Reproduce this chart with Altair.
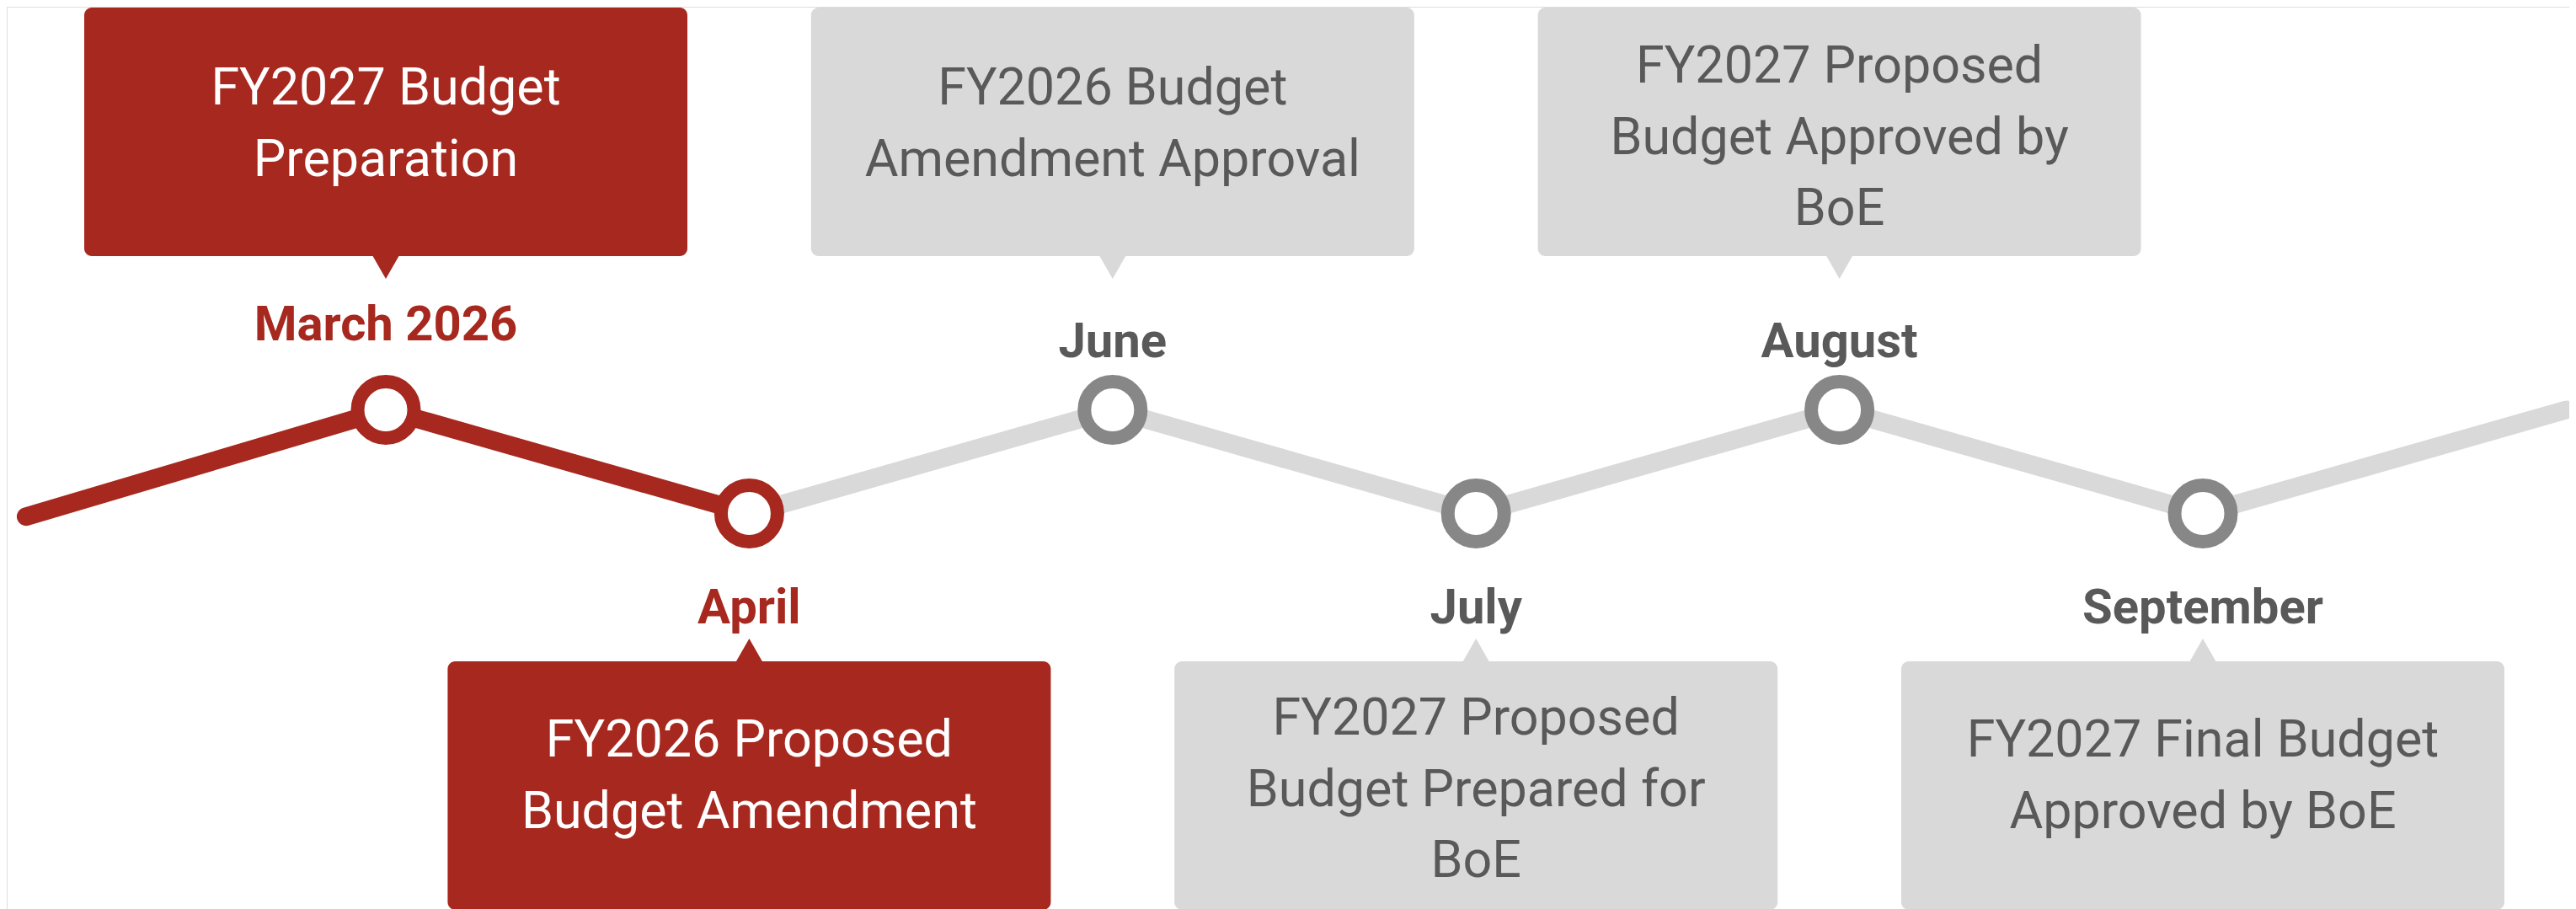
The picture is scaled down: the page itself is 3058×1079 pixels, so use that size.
import altair as alt
import pandas as pd

# ---------------- data ----------------
milestone_labels = ["March 2026", "April", "June", "July", "August", "September"]
milestone_notes = [
    "FY2027 Budget\nPreparation",
    "FY2026 Proposed\nBudget Amendment",
    "FY2026 Budget\nAmendment Approval",
    "FY2027 Proposed\nBudget Prepared for\nBoE",
    "FY2027 Proposed\nBudget Approved by\nBoE",
    "FY2027 Final Budget\nApproved by BoE",
]
milestone_step = [1, 2, 3, 4, 5, 6]
milestone_level = [1, 0, 1, 0, 1, 0]
milestone_done = [True, True, False, False, False, False]

line_step = [0.01, 1, 2, 3, 4, 5, 6, 7]
line_level = [-0.03, 1, 0, 1, 0, 1, 0, 1]
done_upto_step = 2

# ---------------- style / layout ----------------
RED = "#a6281e"
GRAY_FILL = "#d9d9d9"
GRAY_RING = "#878787"
GRAY_TEXT = "#595959"
WHITE = "#ffffff"

W, H = 3042, 1071
X0, X7 = 18.6, 3038.4
Y_LOW, Y_HIGH = 601.5, 478.5
UX = (X7 - X0) / 7.0
UY = Y_LOW - Y_HIGH

def lx(px):
    return px / UX

def ly(py):
    return (Y_LOW - py) / UY

BOX_HALF = 358
TOP_BOX = (1, 296)
BOT_BOX = (777, 1072)
TOP_APEX, BOT_APEX = 323, 750
TRI = 36
NOTE_FS = 61
NOTE_LH = 84.5
LABEL_FS = 58

rows = []
for i, (lab, note, st, lev, done) in enumerate(zip(milestone_labels, milestone_notes,
                                                   milestone_step, milestone_level, milestone_done)):
    top = lev == 1
    by1, by2 = TOP_BOX if top else BOT_BOX
    nlines = note.count("\n") + 1
    first_base = by1 + (115 if nlines == 2 else 89) - (0 if top else 2)
    if top:
        tri_c = TOP_APEX - 0.375 * TRI
        lab_base = 396 if i == 0 else 416
    else:
        tri_c = BOT_APEX + 0.375 * TRI
        lab_base = 732
    rows.append(dict(
        step=st, level=lev, label=lab, note=note,
        bx1=st - lx(BOX_HALF), bx2=st + lx(BOX_HALF),
        by1=ly(by1), by2=ly(by2),
        tri_y=ly(tri_c),
        tri_shape="M-1,-1L1,-1L0,0.75Z" if top else "M-1,1L1,1L0,-0.75Z",
        lab_y=ly(lab_base),
        note_y=ly(first_base - round(0.79 * NOTE_FS)),
        ring=RED if done else GRAY_RING,
        boxfill=RED if done else GRAY_FILL,
        notecol=WHITE if done else GRAY_TEXT,
        labcol=RED if done else GRAY_TEXT,
    ))
df = pd.DataFrame(rows)

line_df = pd.DataFrame({"step": line_step, "level": line_level})
red_line = line_df[line_df["step"] <= done_upto_step]
gray_line = line_df[line_df["step"] >= done_upto_step]

xs = alt.Scale(domain=[0, 7], range=[X0, X7], nice=False, zero=False)
ys = alt.Scale(domain=[0, 1], range=[Y_LOW, Y_HIGH], nice=False, zero=False)

def line_layer(d, col):
    return alt.Chart(d).mark_line(strokeWidth=22, strokeCap="round", strokeJoin="round", color=col).encode(
        x=alt.X("step:Q", scale=xs, axis=None),
        y=alt.Y("level:Q", scale=ys, axis=None),
        order="step:Q",
    )

base = alt.Chart(df)

circles = base.mark_point(shape="circle", size=(2 * 33.5) ** 2, strokeWidth=16,
                          fill=WHITE, fillOpacity=1, opacity=1, filled=False).encode(
    x=alt.X("step:Q", scale=xs, axis=None),
    y=alt.Y("level:Q", scale=ys, axis=None),
    stroke=alt.Stroke("ring:N", scale=None),
)

boxes = base.mark_rect(cornerRadius=9).encode(
    x=alt.X("bx1:Q", scale=xs, axis=None),
    x2="bx2:Q",
    y=alt.Y("by1:Q", scale=ys, axis=None),
    y2="by2:Q",
    fill=alt.Fill("boxfill:N", scale=None),
)

tris = base.mark_point(filled=True, size=TRI * TRI, strokeWidth=0, opacity=1).encode(
    x=alt.X("step:Q", scale=xs, axis=None),
    y=alt.Y("tri_y:Q", scale=ys, axis=None),
    shape=alt.Shape("tri_shape:N", scale=None),
    fill=alt.Fill("boxfill:N", scale=None),
)

labels = base.mark_text(font="Roboto", fontWeight="bold", fontSize=LABEL_FS,
                        align="center", baseline="alphabetic").encode(
    x=alt.X("step:Q", scale=xs, axis=None),
    y=alt.Y("lab_y:Q", scale=ys, axis=None),
    text="label:N",
    fill=alt.Fill("labcol:N", scale=None),
)

notes = base.mark_text(font="Roboto", fontSize=NOTE_FS, lineHeight=NOTE_LH, lineBreak="\n",
                       align="center", baseline="top").encode(
    x=alt.X("step:Q", scale=xs, axis=None),
    y=alt.Y("note_y:Q", scale=ys, axis=None),
    text="note:N",
    fill=alt.Fill("notecol:N", scale=None),
)

chart = alt.layer(
    line_layer(red_line, RED),
    line_layer(gray_line, GRAY_FILL),
    circles, boxes, tris, labels, notes,
).properties(width=W, height=H, padding=0, autosize=alt.AutoSizeParams(type="none")
).configure_view(stroke=None).configure(background="white")

chart.save("out.html", embed_options={"renderer": "svg", "actions": False})
